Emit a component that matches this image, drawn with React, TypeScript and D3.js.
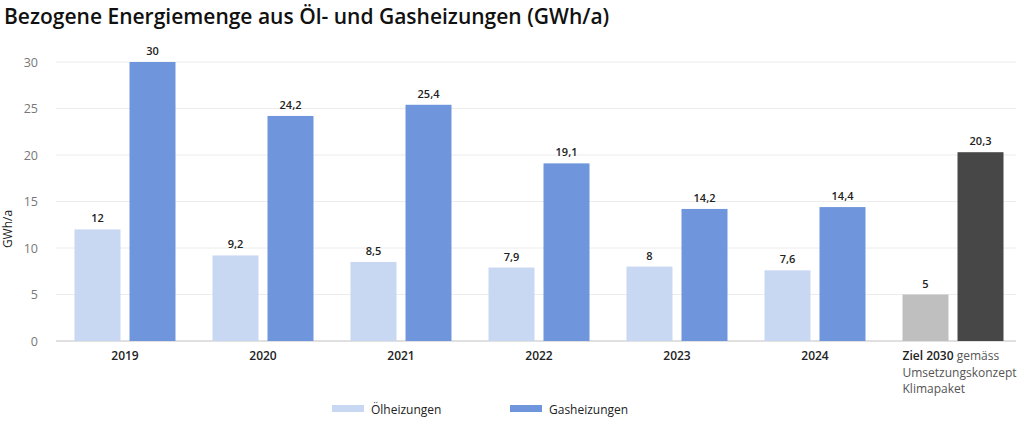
import * as d3 from "d3";
import { useEffect, useRef } from "react";

const categories = ["2019", "2020", "2021", "2022", "2023", "2024", "Ziel 2030"];
const oilValues = [12, 9.2, 8.5, 7.9, 8, 7.6, 5];
const gasValues = [30, 24.2, 25.4, 19.1, 14.2, 14.4, 20.3];
const seriesNames = ["Ölheizungen", "Gasheizungen"];
const yTicks = [0, 5, 10, 15, 20, 25, 30];

const W = 1024;
const H = 443;
const FONT = "'Open Sans', 'Noto Sans', sans-serif";

const fmt = (v: number) => String(v).replace(".", ",");

const drawChart = (target: any) => {
  const margin = { left: 56, top: 62, bottom: 341 };
  const x = d3
    .scaleBand()
    .domain(categories)
    .range([margin.left, margin.left + 138 * categories.length]);
  const inner = d3
    .scaleBand()
    .domain(["oil", "gas"])
    .range([18.5, 138 - 18.5])
    .paddingInner(0.164);
  const y = d3.scaleLinear().domain([0, 30]).range([margin.bottom, margin.top]);

  const svg = d3
    .create("svg")
    .attr("width", W)
    .attr("height", H)
    .style("display", "block")
    .style("font-family", FONT);

  svg.append("rect").attr("width", W).attr("height", H).attr("fill", "#fff");

  svg
    .append("text")
    .attr("x", 4)
    .attr("y", 24)
    .attr("font-size", 21)
    .attr("font-weight", 600)
    .attr("fill", "#111")
    .text("Bezogene Energiemenge aus Öl- und Gasheizungen (GWh/a)");

  // grid
  svg
    .append("g")
    .selectAll("line")
    .data(yTicks.filter((t) => t > 0))
    .join("line")
    .attr("x1", margin.left)
    .attr("x2", 1016)
    .attr("y1", (d) => y(d))
    .attr("y2", (d) => y(d))
    .attr("stroke", "#ececec")
    .attr("stroke-width", 1);

  svg
    .append("line")
    .attr("x1", margin.left)
    .attr("x2", 1016)
    .attr("y1", y(0))
    .attr("y2", y(0))
    .attr("stroke", "#d6d6d6")
    .attr("stroke-width", 1.5);

  svg
    .append("g")
    .selectAll("text")
    .data(yTicks)
    .join("text")
    .attr("x", 38)
    .attr("y", (d) => y(d) + 4.5)
    .attr("text-anchor", "end")
    .attr("font-size", 12.5)
    .attr("fill", "#777")
    .text((d) => d);

  svg
    .append("text")
    .attr("transform", `translate(12,229) rotate(-90)`)
    .attr("text-anchor", "middle")
    .attr("font-size", 12)
    .attr("fill", "#222")
    .text("GWh/a");

  const groups = svg
    .append("g")
    .selectAll("g")
    .data(categories)
    .join("g")
    .attr("transform", (d) => `translate(${x(d)},0)`);

  const isGoal = (i: number) => categories[i].startsWith("Ziel");

  groups.each(function (c, i) {
    const g = d3.select(this);
    const bars = [
      { key: "oil", v: oilValues[i], color: isGoal(i) ? "#bfbfbf" : "#c9d8f2" },
      { key: "gas", v: gasValues[i], color: isGoal(i) ? "#474747" : "#6f95dc" },
    ];
    bars.forEach((b) => {
      g.append("rect")
        .attr("x", inner(b.key)!)
        .attr("y", y(b.v))
        .attr("width", inner.bandwidth())
        .attr("height", y(0) - y(b.v))
        .attr("fill", b.color);
      g.append("text")
        .attr("x", inner(b.key)! + inner.bandwidth() / 2)
        .attr("y", y(b.v) - 7)
        .attr("text-anchor", "middle")
        .attr("font-size", 11)
        .attr("font-weight", 600)
        .attr("fill", "#222")
        .text(fmt(b.v));
    });

    if (!isGoal(i)) {
      g.append("text")
        .attr("x", x.bandwidth() / 2)
        .attr("y", 360)
        .attr("text-anchor", "middle")
        .attr("font-size", 12)
        .attr("font-weight", 600)
        .attr("fill", "#222")
        .text(c);
    } else {
      const lx = inner("oil")!;
      const t = g
        .append("text")
        .attr("x", lx)
        .attr("y", 360)
        .attr("font-size", 12)
        .attr("fill", "#555");
      t.append("tspan").attr("font-weight", 600).attr("fill", "#222").text(c);
      t.append("tspan").text(" gemäss");
      g.append("text")
        .attr("x", lx)
        .attr("y", 377)
        .attr("font-size", 12)
        .attr("fill", "#555")
        .text("Umsetzungskonzept");
      g.append("text")
        .attr("x", lx)
        .attr("y", 393)
        .attr("font-size", 12)
        .attr("fill", "#555")
        .text("Klimapaket");
    }
  });

  // legend
  const legendX = [332, 510];
  const legendColors = ["#c9d8f2", "#6f95dc"];
  const legend = svg
    .append("g")
    .selectAll("g")
    .data(seriesNames)
    .join("g")
    .attr("transform", (_, i) => `translate(${legendX[i]},0)`);
  legend
    .append("rect")
    .attr("x", 0)
    .attr("y", 405)
    .attr("width", 32)
    .attr("height", 7)
    .attr("fill", (_, i) => legendColors[i]);
  legend
    .append("text")
    .attr("x", 39)
    .attr("y", 414)
    .attr("font-size", 12)
    .attr("fill", "#222")
    .text((d) => d);

  const t = d3.select(target);
  t.selectAll("svg").remove();
  t.append(() => svg.node());
};

const App = () => {
  const ref = useRef<HTMLDivElement>(null);
  useEffect(() => {
    if (ref.current) drawChart(ref.current);
  }, []);
  return (
    <div
      ref={ref}
      style={{ position: "absolute", left: 0, top: 0, width: W, height: H }}
    />
  );
};

export default App;
